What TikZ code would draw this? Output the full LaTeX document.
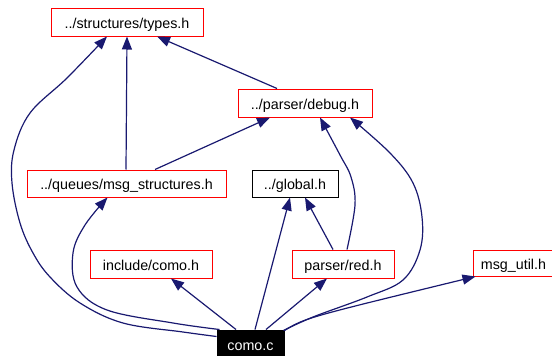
\documentclass[tikz,border=0pt]{standalone}
\usepackage{fontspec}
\setmainfont{Liberation Sans}
\usetikzlibrary{arrows.meta,calc}
\definecolor{edgeblue}{HTML}{191970}
\begin{document}
\begin{tikzpicture}[x=1pt,y=-1pt,
  file/.style={draw=red, line width=1pt, fill=white, inner sep=0pt,
    minimum height=28pt, text height=14pt, text depth=2pt,
    font=\fontsize{14.3}{16}\selectfont},
  plainfile/.style={file, draw=black},
  mainfile/.style={file, draw=black, fill=black, text=white},
  dep/.style={draw=edgeblue, line width=1.2pt,
    -{Triangle[length=13pt,width=10pt]}}]
\useasboundingbox (0,0) rectangle (552,356);

% header files
\node[file, minimum width=152pt] (types) at (127,22) {../structures/types.h};
\node[file, minimum width=134pt] (debug) at (305,103) {../parser/debug.h};
\node[file, minimum width=199pt, minimum height=27pt] (msgs) at (126.5,183.5) {../queues/msg\_structures.h};
\node[plainfile, minimum width=86pt, minimum height=27pt] (global) at (295,183.5) {../global.h};
\node[file, minimum width=122pt] (incl) at (151,264) {include/como.h};
\node[file, minimum width=102pt] (red) at (343,264) {parser/red.h};
\node[file, minimum width=81pt, minimum height=26pt] (util) at (513.5,263) {msg\_util.h};
\node[mainfile, minimum width=67pt] (como) at (250.5,344) {como.c};

% includes of como.c
\draw[dep] plot[smooth, tension=0.6] coordinates {($(como.north west)+(0,7)$) (183,332) (123,323) (80,303) (50,277) (33,253) (20,223) (12,183) (14,150) (30,113) (67,78) ($(types.south)+(-20,0)$)};
\draw[dep] plot[smooth, tension=0.6] coordinates {($(como.north west)+(3,0)$) (173,323) (107,310) (77,287) (73,253) (85,225) ($(msgs.south)+(-19,0)$)};
\draw[dep] ($(como.north)+(-14.5,0)$) -- ($(incl.south)+(20,0)$);
\draw[dep] ($(como.north)+(4.5,0)$) -- ($(global.south)+(-5,0)$);
\draw[dep] ($(como.north)+(15.5,0)$) -- ($(red.south)+(-16,0)$);
\draw[dep] plot[smooth, tension=0.6] coordinates {($(como.north east)+(-1,1)$) (313,317) (367,297) (403,280) (420,250) (422,217) (413,183) (390,153) ($(debug.south)+(45,0)$)};
\draw[dep] ($(como.north east)+(0,1)$) .. controls (305,318) .. ($(util.south west)+(3,0)$);

% includes between headers
\draw[dep] ($(msgs.north)+(-0.5,0)$) -- (types.south);
\draw[dep] ($(msgs.north)+(28.5,0)$) -- ($(debug.south)+(-35,0)$);
\draw[dep] ($(debug.north)+(-28,0)$) -- ($(types.south)+(30,0)$);
\draw[dep] ($(red.north)+(-10,0)$) -- ($(global.south)+(10,0)$);
\draw[dep] plot[smooth, tension=0.6] coordinates {($(red.north)+(4,0)$) (355,205) (351,177) (340,155) ($(debug.south)+(15,0)$)};
\end{tikzpicture}
\end{document}
